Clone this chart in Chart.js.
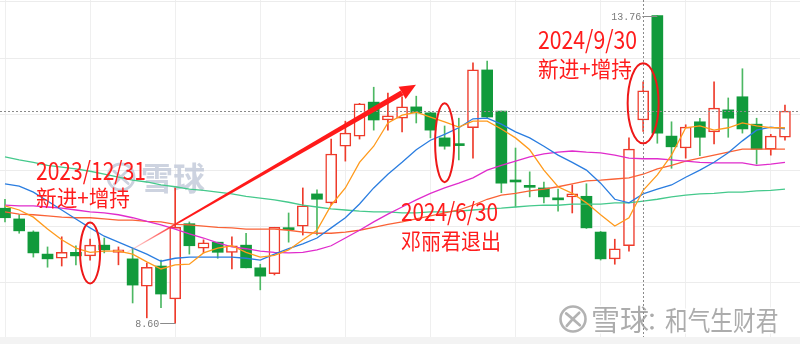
<!DOCTYPE html>
<html>
<head>
<meta charset="utf-8">
<script src="https://cdn.jsdelivr.net/npm/chart.js@4/dist/chart.umd.min.js"></script>
<style>
  html, body { margin: 0; padding: 0; background: #f3f3f3; }
  #wrap { width: 800px; height: 337px; background: #ffffff; }
  canvas { display: block; }
</style>
</head>
<body>
<div id="wrap"><canvas id="c" width="800" height="337"></canvas></div>
<script>
// Weekly bars (week ending dates)
const weeks = ['2023-11-17','2023-11-24','2023-12-01','2023-12-08','2023-12-15','2023-12-22','2023-12-29',
  '2024-01-05','2024-01-12','2024-01-19','2024-01-26','2024-02-02','2024-02-08','2024-02-23','2024-03-01',
  '2024-03-08','2024-03-15','2024-03-22','2024-03-29','2024-04-03','2024-04-12','2024-04-19','2024-04-26',
  '2024-04-30','2024-05-10','2024-05-17','2024-05-24','2024-05-31','2024-06-07','2024-06-14','2024-06-21',
  '2024-06-28','2024-07-05','2024-07-12','2024-07-19','2024-07-26','2024-08-02','2024-08-09','2024-08-16',
  '2024-08-23','2024-08-30','2024-09-06','2024-09-13','2024-09-20','2024-09-27','2024-09-30','2024-10-11',
  '2024-10-18','2024-10-25','2024-11-01','2024-11-08','2024-11-15','2024-11-22','2024-11-29','2024-12-06',
  '2024-12-13'];

const opens  = [10.53,10.35,10.13,9.76,9.69,9.79,9.73,9.91,9.79,9.68,9.22,9.56,9.01,10.27,9.86,9.96,9.79,9.91,9.53,9.43,
  10.20,10.23,10.77,10.62,11.57,11.74,12.31,12.01,12.04,12.23,12.13,11.71,11.61,11.88,12.85,12.16,11.00,10.91,10.87,10.70,
  10.72,10.73,10.13,9.68,9.90,12.01,13.76,11.74,11.54,11.98,11.81,12.18,12.40,11.94,11.52,11.72];
const closes = [10.37,10.15,9.78,9.68,9.79,9.73,9.91,9.83,9.83,9.24,9.54,9.09,10.21,9.90,9.95,9.79,9.90,9.53,9.39,10.21,
  10.17,10.57,10.68,11.44,11.79,12.28,12.01,12.08,12.23,12.13,11.84,11.57,11.58,12.85,12.06,10.95,10.97,10.88,10.72,10.67,
  10.77,10.20,9.68,9.85,11.52,12.50,11.79,11.56,11.89,11.72,12.21,12.04,11.86,11.52,11.74,12.16];
const highs  = [10.68,10.42,10.15,9.88,10.05,9.90,10.01,10.03,9.88,9.86,9.61,9.66,10.87,10.30,10.00,9.96,10.05,10.11,9.59,10.21,
  10.45,10.87,10.84,11.69,11.99,12.29,12.56,12.46,12.40,12.41,12.14,11.91,12.04,12.97,13.00,12.16,11.54,11.14,10.97,10.85,
  10.92,10.94,10.14,10.01,11.71,12.65,13.76,11.98,11.93,12.04,12.65,12.38,12.87,12.04,11.77,12.26];
const lows   = [10.30,10.11,9.71,9.54,9.56,9.58,9.66,9.78,9.58,8.94,8.69,8.86,8.60,9.76,9.78,9.69,9.51,9.53,9.16,9.41,
  9.96,10.08,10.08,10.58,11.32,11.69,11.84,11.84,11.81,11.96,11.71,11.52,11.34,11.37,12.05,10.79,10.55,10.72,10.62,10.48,
  10.45,10.19,9.66,9.59,9.81,11.82,11.62,11.20,11.37,11.41,11.61,11.72,11.79,11.27,11.42,11.67];

// Moving averages
const ma5  = [10.57,10.50,10.38,10.18,10.00,9.86,9.79,9.81,9.81,9.76,9.63,9.51,9.58,9.59,9.78,9.86,9.90,9.79,9.71,9.74,
  9.83,10.00,10.16,10.58,10.87,11.30,11.57,11.96,12.09,12.14,12.06,11.98,11.89,11.99,11.99,11.86,11.71,11.51,11.17,10.89,
  10.78,10.62,10.42,10.23,10.37,10.83,11.09,11.42,11.88,11.91,11.84,11.88,11.96,11.91,11.88,11.88];
const ma10 = [10.94,10.90,10.80,10.65,10.50,10.35,10.20,10.06,9.96,9.86,9.76,9.64,9.69,9.71,9.71,9.71,9.71,9.69,9.66,9.76,
  9.85,9.93,10.03,10.20,10.37,10.60,10.87,11.10,11.30,11.51,11.67,11.77,11.88,12.03,12.04,11.94,11.81,11.71,11.57,11.42,
  11.30,11.17,10.95,10.68,10.62,10.77,10.85,10.92,11.05,11.17,11.30,11.46,11.66,11.84,11.89,11.86];
const ma20 = [10.58,10.57,10.57,10.55,10.53,10.50,10.47,10.45,10.42,10.37,10.31,10.25,10.18,10.10,10.03,9.95,9.88,9.85,9.81,9.79,
  9.78,9.79,9.83,9.90,10.03,10.16,10.30,10.43,10.55,10.67,10.78,10.87,10.95,11.04,11.17,11.25,11.32,11.39,11.44,11.47,
  11.49,11.47,11.46,11.42,11.37,11.36,11.36,11.34,11.32,11.30,11.29,11.29,11.29,11.25,11.27,11.30];
const ma30 = [10.47,10.43,10.42,10.40,10.38,10.37,10.37,10.35,10.33,10.33,10.31,10.30,10.26,10.25,10.23,10.21,10.20,10.18,10.18,10.18,
  10.16,10.13,10.11,10.11,10.13,10.16,10.21,10.26,10.30,10.35,10.40,10.45,10.50,10.58,10.68,10.75,10.78,10.82,10.85,10.89,
  10.94,10.99,11.00,11.02,11.04,11.10,11.19,11.25,11.32,11.37,11.42,11.47,11.52,11.52,11.52,11.52];
const ma60 = [11.39,11.34,11.30,11.25,11.22,11.19,11.15,11.10,11.05,11.00,10.97,10.92,10.89,10.85,10.83,10.80,10.77,10.73,10.70,10.67,
  10.63,10.58,10.55,10.52,10.50,10.48,10.47,10.47,10.45,10.45,10.47,10.47,10.48,10.50,10.52,10.53,10.55,10.57,10.58,10.58,
  10.60,10.60,10.60,10.62,10.62,10.65,10.68,10.72,10.75,10.77,10.78,10.80,10.80,10.82,10.83,10.85];

// Price levels of the horizontal grid
const gridPrices = [13.99, 13.05, 12.11, 11.17, 10.23, 9.29];

// Marked weeks with their notes
const notes = [
  { week: '2023-12-29', title: '2023/12/31', text: '新进+增持', mid: 9.78,  rx: 10,   ry: 30.5 },
  { week: '2024-06-28', title: '2024/6/30',  text: '邓丽君退出', mid: 11.63, rx: 9.5,  ry: 39.5 },
  { week: '2024-09-30', title: '2024/9/30',  text: '新进+增持', mid: 12.29, rx: 15.5, ry: 40 }
];
const crossWeek = '2024-09-30';
const trendFrom = [8.6, 9.79];
const trendTo   = [28.98, 12.60];

const UP = '#ee3b2b', DOWN = '#119a3b', DOWN_WICK = '#4cb863', NOTE = '#ff1c1c';
const isUp = i => closes[i] >= opens[i];
const idx = w => weeks.indexOf(w);

function fitText(ctx, txt, x, y, maxW) {
  const w = ctx.measureText(txt).width;
  if (maxW && w > maxW) {
    ctx.save(); ctx.translate(x, y); ctx.scale(maxW / w, 1); ctx.fillText(txt, 0, 0); ctx.restore();
  } else ctx.fillText(txt, x, y);
}

function drawLogo(ctx, cx, cy, r, color, lw) {
  ctx.save();
  ctx.strokeStyle = color; ctx.lineWidth = lw; ctx.lineCap = 'round';
  ctx.beginPath(); ctx.arc(cx, cy, r, 0, Math.PI * 2); ctx.stroke();
  ctx.beginPath();
  ctx.moveTo(cx - r * 0.55, cy - r * 0.45); ctx.quadraticCurveTo(cx, cy, cx + r * 0.55, cy + r * 0.5);
  ctx.moveTo(cx + r * 0.5, cy - r * 0.5); ctx.quadraticCurveTo(cx - r * 0.1, cy + r * 0.05, cx - r * 0.5, cy + r * 0.55);
  ctx.stroke();
  ctx.restore();
}

const marks = {
  id: 'marks',
  beforeDatasetsDraw(chart) {
    const ctx = chart.ctx;
    ctx.save();
    // watermark in the plot
    drawLogo(ctx, 121, 177, 13, 'rgba(190,198,214,0.8)', 2.8);
    ctx.font = 'bold 32px "Noto Sans CJK SC"';
    ctx.fillStyle = 'rgba(192,200,216,0.8)';
    ctx.textBaseline = 'alphabetic'; ctx.textAlign = 'left';
    ctx.fillText('雪球', 141, 190);
    // author tag at bottom right
    drawLogo(ctx, 573, 319, 12.5, 'rgba(170,170,170,0.9)', 2.6);
    ctx.lineJoin = 'round';
    ctx.strokeStyle = 'rgba(255,255,255,0.9)'; ctx.lineWidth = 3;
    ctx.fillStyle = 'rgba(165,165,165,0.92)';
    ctx.font = '29px "Noto Sans CJK SC"';
    ctx.strokeText('雪球', 591, 331); ctx.fillText('雪球', 591, 331);
    ctx.font = '24px "Noto Sans CJK SC"';
    ctx.strokeText('：', 646, 329); ctx.fillText('：', 646, 329);
    ctx.font = '27px "Noto Sans CJK SC"';
    ctx.save(); ctx.translate(665, 331); ctx.scale(0.84, 1);
    ctx.strokeText('和气生财君', 0, 0); ctx.fillText('和气生财君', 0, 0);
    ctx.restore();
    ctx.restore();
  },
  afterDatasetsDraw(chart) {
    const ctx = chart.ctx, xs = chart.scales.x, ys = chart.scales.y;
    const px = v => xs.getPixelForValue(v), py = v => ys.getPixelForValue(v);
    ctx.save();

    // last price line and week cross line
    ctx.strokeStyle = '#8a8a8a'; ctx.lineWidth = 1; ctx.setLineDash([2, 2]);
    const yLast = Math.round(py(closes[closes.length - 1])) + 0.5;
    ctx.beginPath(); ctx.moveTo(0, yLast); ctx.lineTo(800, yLast); ctx.stroke();
    const xCross = Math.round(px(idx(crossWeek))) + 0.5;
    ctx.beginPath(); ctx.moveTo(xCross, 0); ctx.lineTo(xCross, 344); ctx.stroke();
    ctx.setLineDash([]);

    // extreme price tags
    const hi = Math.max(...highs), lo = Math.min(...lows);
    const hiI = highs.indexOf(hi), loI = lows.indexOf(lo);
    ctx.strokeStyle = '#8a8a8a'; ctx.fillStyle = '#7a7a7a';
    ctx.font = '10px "Liberation Mono"'; ctx.textAlign = 'right'; ctx.textBaseline = 'middle';
    [[hiI, hi], [loI, lo]].forEach(([i, v]) => {
      const x = px(i), y = Math.round(py(v)) + 0.5;
      ctx.beginPath(); ctx.moveTo(x - 15, y); ctx.lineTo(x, y); ctx.stroke();
      ctx.fillText(v.toFixed(2), x - 16, y + 1);
    });

    // trend arrow
    const S = { x: px(trendFrom[0]), y: py(trendFrom[1]) }, T = { x: px(trendTo[0]), y: py(trendTo[1]) };
    const dx = T.x - S.x, dy = T.y - S.y, L = Math.hypot(dx, dy);
    const ux = dx / L, uy = dy / L, nx = -uy, ny = ux;
    const headLen = 16, headW = 7;
    const B = { x: T.x - ux * headLen, y: T.y - uy * headLen };
    const w0 = 0.5, w1 = 2.8;
    const g = ctx.createLinearGradient(S.x, S.y, B.x, B.y);
    g.addColorStop(0, 'rgba(255,130,130,0.25)');
    g.addColorStop(0.1, 'rgba(255,70,70,0.7)');
    g.addColorStop(0.2, '#ff1a1a');
    g.addColorStop(1, '#ff1a1a');
    ctx.beginPath();
    ctx.moveTo(S.x + nx * w0, S.y + ny * w0); ctx.lineTo(B.x + nx * w1, B.y + ny * w1);
    ctx.lineTo(B.x - nx * w1, B.y - ny * w1); ctx.lineTo(S.x - nx * w0, S.y - ny * w0);
    ctx.closePath(); ctx.fillStyle = g; ctx.fill();
    ctx.beginPath();
    ctx.moveTo(T.x, T.y); ctx.lineTo(B.x + nx * headW, B.y + ny * headW); ctx.lineTo(B.x - nx * headW, B.y - ny * headW);
    ctx.closePath(); ctx.fillStyle = '#ff1a1a'; ctx.fill();

    // rings round the marked weeks
    ctx.strokeStyle = '#ee1818'; ctx.lineWidth = 2;
    notes.forEach(n => {
      ctx.beginPath(); ctx.ellipse(px(idx(n.week)), py(n.mid), n.rx, n.ry, 0, 0, Math.PI * 2); ctx.stroke();
    });

    // note texts
    ctx.fillStyle = NOTE; ctx.textAlign = 'left'; ctx.textBaseline = 'alphabetic';
    const spots = [[36, 180, 110, 206, 94], [401, 221, 97, 249, 100], [538, 49, 99, 77, 94]];
    notes.forEach((n, k) => {
      const [x, y1, w1t, y2, w2t] = spots[k];
      ctx.font = '25px "Noto Sans CJK SC"'; fitText(ctx, n.title, x, y1, w1t);
      ctx.font = '22px "Noto Sans CJK SC"'; fitText(ctx, n.text, x, y2, w2t);
    });
    ctx.restore();
  }
};

const idxs = weeks.map((w, i) => i);
const lineSet = (label, data, color) => ({
  type: 'line', label, data: data.map((v, i) => ({ x: i, y: v })),
  borderColor: color, borderWidth: 1.3, pointRadius: 0, tension: 0, order: 0
});

new Chart(document.getElementById('c'), {
  type: 'bar',
  data: {
    labels: weeks,
    datasets: [
      lineSet('MA5', ma5, '#ff9a1c'),
      lineSet('MA10', ma10, '#2a7de0'),
      lineSet('MA20', ma20, '#e02ccc'),
      lineSet('MA30', ma30, '#fa6236'),
      lineSet('MA60', ma60, '#45c98c'),
      {
        label: 'body', order: 1, grouped: false, barThickness: 11, minBarLength: 2,
        data: idxs.map(i => ({ x: i, y: [opens[i], closes[i]] })),
        backgroundColor: c => isUp(c.dataIndex) ? '#ffffff' : DOWN,
        borderColor: c => isUp(c.dataIndex) ? UP : DOWN,
        borderWidth: c => isUp(c.dataIndex) ? 1.5 : 0,
        borderSkipped: false
      },
      {
        label: 'range', order: 2, grouped: false, barThickness: 1,
        data: idxs.map(i => ({ x: i, y: [lows[i], highs[i]] })),
        backgroundColor: c => isUp(c.dataIndex) ? UP : DOWN_WICK,
        borderWidth: 0
      }
    ]
  },
  options: {
    responsive: false, animation: false, devicePixelRatio: 1,
    layout: { padding: 0 },
    plugins: { legend: { display: false }, tooltip: { enabled: false } },
    scales: {
      x: {
        type: 'linear', min: -0.3526, max: 56.06, offset: false,
        afterBuildTicks: s => { s.ticks = idxs.filter(i => i % 6 === 0).map(v => ({ value: v })); },
        ticks: { display: false }, border: { display: false },
        grid: { color: '#efefef', drawTicks: false, offset: false }
      },
      y: {
        type: 'linear', min: 8.369, max: 14.0234,
        afterBuildTicks: s => { s.ticks = gridPrices.map(v => ({ value: v })); },
        ticks: { display: false }, border: { display: false },
        grid: { color: '#ececec', drawTicks: false }
      }
    }
  },
  plugins: [marks]
});
</script>
</body>
</html>
